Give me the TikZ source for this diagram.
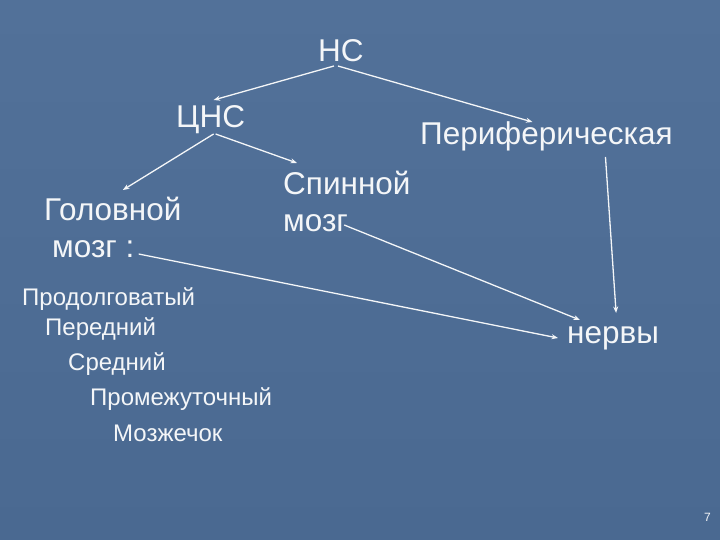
\documentclass[tikz,border=0pt]{standalone}
\usepackage{fontspec}
\setmainfont{Liberation Sans}
\usepackage{tikz}
\usetikzlibrary{arrows.meta}
\definecolor{slide}{RGB}{74,105,145}
\definecolor{slidetop}{RGB}{82,113,153}
\definecolor{ink}{RGB}{244,246,248}

\begin{document}
\begin{tikzpicture}[x=1pt ,y=-1pt ,
		txt/.style ={ anchor=base west ,inner sep=0pt ,text=ink ,
			font=\fontsize{31.5}{31}\selectfont},
		lst/.style ={ txt ,font=\fontsize{24}{24}\selectfont},
		arr/.style ={ draw=ink ,line width=1.3pt ,-{Stealth[length=6.5pt ,width=5pt]}}]
		\useasboundingbox (0,0) rectangle (720,540);
		\fill[top color=slidetop ,bottom color=slide] (0,0) rectangle (720,540);
		\node[txt] (ns) at (318,62) {НС};
		\node[txt] (cns) at (176,128) {ЦНС};
		\node[txt] (per) at (420,145) {Периферическая};
		\node[txt] (gol) at (44,221) {Головной};
		\node[txt] (gm) at (52,257) {мозг :};
		\node[txt] (sp) at (283,195) {Спинной};
		\node[txt] (sm) at (283,232) {мозг};
		\node[txt] (nerv) at (567,343) {нервы};
		\node[lst] (l1) at (22,305) {Продолговатый};
		\node[lst] (l2) at (45,335) {Передний};
		\node[lst] (l3) at (68,370) {Средний};
		\node[lst] (l4) at (90,405) {Промежуточный};
		\node[lst] (l5) at (113,441) {Мозжечок};
		\node[txt ,font=\fontsize{12}{12}\selectfont] (pg) at (704,521) {7};
		\path ([xshift=-7pt ,yshift=-4pt]ns.base) edge[arr] ([xshift=3pt ,yshift=28pt]cns.base); % НС to ЦНС
		\path ([xshift=-3pt ,yshift=-4pt]ns.base) edge[arr] ([xshift=-14pt ,yshift=23pt]per.base); % НС to периферическая
		\path ([xshift=3pt ,yshift=-6pt]cns.base) edge[arr] ([xshift=10pt ,yshift=31pt]gol.base); % ЦНС to головной
		\path ([xshift=5pt ,yshift=-6pt]cns.base) edge[arr] ([xshift=14pt ,yshift=32pt]sp.base west); % ЦНС to спинной
		\path ([xshift=-4pt ,yshift=7pt]sm.base east) edge[arr] ([xshift=13pt ,yshift=23pt]nerv.base west); % спинной to нервы
		\path ([xshift=4pt ,yshift=3pt]gm.base east) edge[arr] ([xshift=-9pt ,yshift=5pt]nerv.base west); % головной to нервы
		\path ([xshift=59pt ,yshift=-12pt]per.base) edge[arr] ([xshift=3pt ,yshift=30pt]nerv.base); % периферическая to нервы
		\end{tikzpicture}
\end{document}
